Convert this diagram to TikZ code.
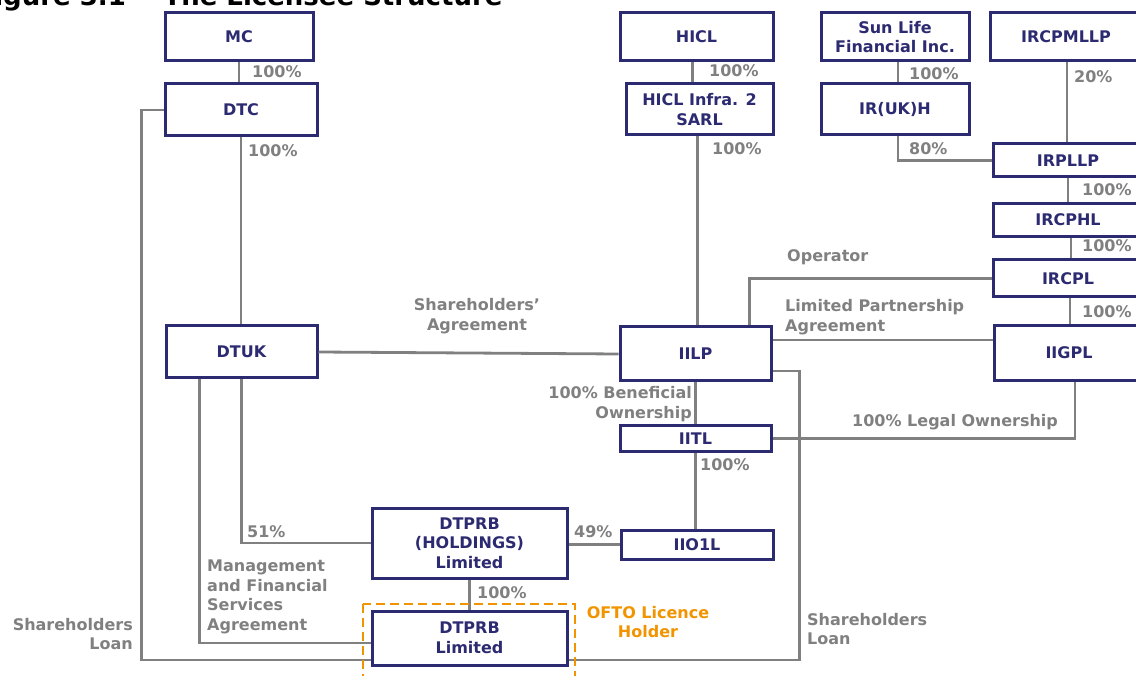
\documentclass[tikz,border=0pt]{standalone}
\usepackage{fontspec}
\setmainfont{DejaVu Sans}
\definecolor{navy}{RGB}{44,42,112}
\definecolor{lgrey}{RGB}{128,128,128}
\definecolor{ofto}{RGB}{242,148,0}

\begin{document}
\begin{tikzpicture}[x=1pt,y=-1pt,
    every node/.style={font=\fontsize{16}{19.5}\selectfont\bfseries},
    ent/.style={draw=navy,line width=3pt,text=navy,align=center,inner sep=0pt,fill=white},
    lbl/.style={text=lgrey,inner sep=0pt},
    link/.style={draw=lgrey,line width=2.8pt}]
        \useasboundingbox (0,0) rectangle (1136,676);
        % title, cut at the top
        \node[anchor=base west,font=\fontsize{26}{30}\selectfont\bfseries] (fig) at (-27,6) {Figure 3.1};
        \node[anchor=base west,font=\fontsize{26}{30}\selectfont\bfseries] (title) at (160,6) {The Licensee Structure};
        % entities
        \node[ent,minimum width=148,minimum height=48] (mc) at (239,37) {MC};
        \node[ent,minimum width=152,minimum height=52] (dtc) at (241,110) {DTC};
        \node[ent,minimum width=153,minimum height=48] (hicl) at (696.5,37) {HICL};
        \node[ent,minimum width=147,minimum height=51] (sarl) at (699.5,109.5) {HICL Infra. 2\\SARL};
        \node[ent,minimum width=148,minimum height=48] (sunlife) at (895,37) {Sun Life\\Financial Inc.};
        \node[ent,minimum width=148,minimum height=51] (irukh) at (895,109.5) {IR(UK)H};
        \node[ent,minimum width=152,minimum height=48] (ircpmllp) at (1066,37) {IRCPMLLP};
        \node[ent,minimum width=150,minimum height=33] (irpllp) at (1068,160.5) {IRPLLP};
        \node[ent,minimum width=150,minimum height=33] (ircphl) at (1068,220) {IRCPHL};
        \node[ent,minimum width=150,minimum height=37] (ircpl) at (1068,278.5) {IRCPL};
        \node[ent,minimum width=150,minimum height=55] (iigpl) at (1069,353) {IIGPL};
        \node[ent,minimum width=151,minimum height=52] (dtuk) at (241.5,352) {DTUK};
        \node[ent,minimum width=151,minimum height=54] (iilp) at (695.5,354) {IILP};
        \node[ent,minimum width=151,minimum height=25] (iitl) at (695.5,438.5) {IITL};
        \node[ent,minimum width=152,minimum height=29] (iio1l) at (697,544.5) {IIO1L};
        \node[ent,minimum width=195,minimum height=70] (hold) at (469.5,543) {DTPRB\\(HOLDINGS)\\Limited};
        \node[ent,minimum width=195,minimum height=54] (dtprb) at (469.5,638) {DTPRB\\Limited};
        % ownership lines
        \draw[link] (mc.south) -- (mc.south |- dtc.north);
        \draw[link] (dtc.south) -- (dtc.south |- dtuk.north);
        \draw[link] ([xshift=-4pt]hicl.south) -- ([xshift=-4pt]hicl.south |- sarl.north);
        \draw[link] ([xshift=-2pt]sarl.south) -- ([xshift=-2pt]sarl.south |- iilp.north);
        \draw[link] ([xshift=3pt]sunlife.south) -- ([xshift=3pt]sunlife.south |- irukh.north);
        \draw[link] ([xshift=3pt]irukh.south) |- (irpllp.west);
        \draw[link] ([xshift=1pt]ircpmllp.south) -- ([xshift=1pt]ircpmllp.south |- irpllp.north);
        \draw[link] (irpllp.south) -- (ircphl.north);
        \draw[link] ([xshift=3pt]ircphl.south) -- ([xshift=3pt]ircphl.south |- ircpl.north);
        \draw[link] ([xshift=2pt]ircpl.south) -- ([xshift=2pt]ircpl.south |- iigpl.north);
        \draw[link] (ircpl.west) -| ([xshift=-23pt]iilp.north east);
        \draw[link] ([yshift=14pt]iilp.east) -- ([yshift=14pt]iilp.east -| iigpl.west);
        \draw[link] (dtuk.east) -- (iilp.west);
        \draw[link] (iilp.south) -- (iitl.north);
        \draw[link] ([xshift=6pt]iigpl.south) |- (iitl.east);
        \draw[link] (iitl.south) -- (iitl.south |- iio1l.north);
        \draw[link] (iio1l.west) -- (iio1l.west -| hold.east);
        \draw[link] (dtuk.south) |- (hold.west);
        \draw[link] (hold.south) -- (dtprb.north);
        \draw[link] ([xshift=-42pt]dtuk.south) |- ([yshift=-5pt]dtprb.west);
        \draw[link] (dtc.west) -- ++(-22,0) |- ([yshift=-22pt]dtprb.west);
        \draw[link] ([yshift=-17pt]iilp.east) -- ++(27,0) |- ([yshift=-22pt]dtprb.east);
        % licence holder frame
        \draw[ofto,line width=2.8pt,dash pattern=on 9pt off 5pt] (363,604) rectangle (575,690);
        \node[text=ofto,align=center,inner sep=0pt] (holder) at (648,622) {OFTO Licence\\Holder};
        % labels
        \node[lbl,anchor=west] (p1) at (252,72) {100\%};
        \node[lbl,anchor=west] (p2) at (248,151) {100\%};
        \node[lbl,anchor=west] (p3) at (709,71) {100\%};
        \node[lbl,anchor=west] (p4) at (712,149) {100\%};
        \node[lbl,anchor=west] (p5) at (909,74) {100\%};
        \node[lbl,anchor=west] (p6) at (909,149) {80\%};
        \node[lbl,anchor=west] (p7) at (1074,77) {20\%};
        \node[lbl,anchor=west] (p8) at (1082,190) {100\%};
        \node[lbl,anchor=west] (p9) at (1082,246) {100\%};
        \node[lbl,anchor=west] (p10) at (1082,312) {100\%};
        \node[lbl,anchor=west] (p11) at (700,465) {100\%};
        \node[lbl,anchor=west] (p12) at (574,532) {49\%};
        \node[lbl,anchor=west] (p13) at (247,532) {51\%};
        \node[lbl,anchor=west] (p14) at (477,593) {100\%};
        \node[lbl,anchor=west] (op) at (787,257) {Operator};
        \node[lbl,anchor=west,align=left] (lpa) at (785,317) {Limited Partnership\\Agreement};
        \node[lbl,align=center] (sha) at (477,316) {Shareholders’\\Agreement};
        \node[lbl,anchor=east,align=right] (ben) at (692,404) {100\% Beneficial\\Ownership};
        \node[lbl,anchor=west] (legal) at (852,422) {100\% Legal Ownership};
        \node[lbl,anchor=west,align=left] (mfsa) at (207,597) {Management\\and Financial\\Services\\Agreement};
        \node[lbl,anchor=east,align=right] (loanl) at (133,634) {Shareholders\\Loan};
        \node[lbl,anchor=west,align=left] (loanr) at (807,629) {Shareholders\\Loan};
\end{tikzpicture}
\end{document}
